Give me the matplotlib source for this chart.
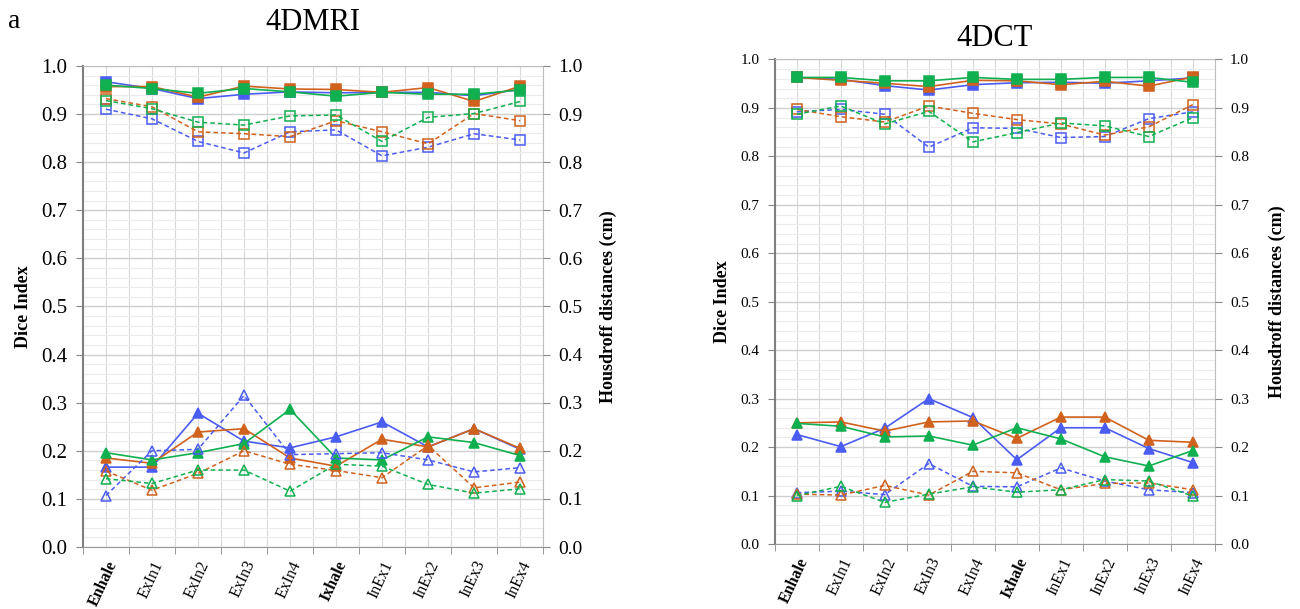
import numpy as np
import matplotlib.pyplot as plt
from matplotlib.ticker import MultipleLocator, FormatStrFormatter

plt.rcParams['font.family'] = ['Liberation Serif', 'DejaVu Serif']

categories = ['Enhale', 'ExIn1', 'ExIn2', 'ExIn3', 'ExIn4',
              'Ixhale', 'InEx1', 'InEx2', 'InEx3', 'InEx4']
bold_labels = ['Enhale', 'Ixhale']
y_ticks = [0.0, 0.1, 0.2, 0.3, 0.4, 0.5, 0.6, 0.7, 0.8, 0.9, 1.0]

# 4DMRI - Dice index (filled squares, solid)
mri_dice_blue = [0.967, 0.953, 0.932, 0.941, 0.946, 0.944, 0.945, 0.945, 0.938, 0.951]
mri_dice_orange = [0.957, 0.957, 0.935, 0.958, 0.952, 0.951, 0.945, 0.955, 0.926, 0.958]
mri_dice_green = [0.960, 0.953, 0.943, 0.953, 0.946, 0.937, 0.945, 0.941, 0.941, 0.950]
# 4DMRI - Dice index (open squares, dashed)
mri_dice2_blue = [0.910, 0.890, 0.843, 0.819, 0.863, 0.867, 0.813, 0.831, 0.859, 0.846]
mri_dice2_orange = [0.932, 0.915, 0.863, 0.859, 0.853, 0.886, 0.863, 0.838, 0.901, 0.886]
mri_dice2_green = [0.928, 0.911, 0.883, 0.877, 0.896, 0.898, 0.843, 0.893, 0.901, 0.926]
# 4DMRI - Housdroff distances (filled triangles, solid)
mri_hd_blue = [0.166, 0.166, 0.278, 0.220, 0.206, 0.229, 0.260, 0.208, 0.246, 0.203]
mri_hd_orange = [0.185, 0.174, 0.239, 0.246, 0.185, 0.168, 0.224, 0.208, 0.246, 0.205]
mri_hd_green = [0.196, 0.181, 0.196, 0.215, 0.286, 0.185, 0.181, 0.229, 0.217, 0.190]
# 4DMRI - Housdroff distances (open triangles, dashed)
mri_hd2_blue = [0.107, 0.200, 0.203, 0.315, 0.192, 0.194, 0.196, 0.181, 0.156, 0.165]
mri_hd2_orange = [0.158, 0.118, 0.153, 0.200, 0.172, 0.159, 0.144, 0.211, 0.123, 0.135]
mri_hd2_green = [0.142, 0.132, 0.160, 0.160, 0.116, 0.172, 0.168, 0.130, 0.112, 0.121]

# 4DCT - Dice index
ct_dice_blue = [0.963, 0.959, 0.946, 0.937, 0.948, 0.952, 0.953, 0.951, 0.956, 0.962]
ct_dice_orange = [0.963, 0.957, 0.951, 0.944, 0.957, 0.956, 0.948, 0.955, 0.945, 0.964]
ct_dice_green = [0.963, 0.963, 0.956, 0.956, 0.963, 0.959, 0.959, 0.963, 0.963, 0.953]
ct_dice2_blue = [0.892, 0.897, 0.887, 0.819, 0.859, 0.858, 0.839, 0.841, 0.878, 0.892]
ct_dice2_orange = [0.897, 0.882, 0.871, 0.904, 0.889, 0.876, 0.867, 0.844, 0.861, 0.907]
ct_dice2_green = [0.887, 0.904, 0.867, 0.893, 0.830, 0.849, 0.869, 0.863, 0.841, 0.880]
# 4DCT - Housdroff distances
ct_hd_blue = [0.226, 0.201, 0.239, 0.300, 0.261, 0.174, 0.240, 0.240, 0.197, 0.168]
ct_hd_orange = [0.250, 0.252, 0.233, 0.252, 0.254, 0.218, 0.262, 0.262, 0.214, 0.210]
ct_hd_green = [0.249, 0.243, 0.221, 0.223, 0.204, 0.240, 0.217, 0.180, 0.161, 0.193]
ct_hd2_blue = [0.106, 0.109, 0.102, 0.166, 0.119, 0.118, 0.157, 0.130, 0.112, 0.106]
ct_hd2_orange = [0.103, 0.101, 0.121, 0.101, 0.150, 0.147, 0.112, 0.125, 0.126, 0.112]
ct_hd2_green = [0.100, 0.119, 0.086, 0.103, 0.118, 0.107, 0.112, 0.133, 0.130, 0.099]

BLUE = '#4b5cf2'
ORANGE = '#d0621e'
GREEN = '#10b050'
DASH = (0, (3, 2))


def draw_panel(ax, series, tick_fs_left, tick_fs_right, ms, rlabelpad):
    x = np.arange(len(categories))
    for vals, color, marker, filled in series:
        ls = '-' if filled else DASH
        ax.plot(x, vals, linestyle=ls, color=color, lw=1.2 if filled else 1.1,
                marker=marker, ms=ms, mec=color,
                mfc=color if filled else 'none', mew=1.1, zorder=3)
    ax.set_xlim(-0.5, len(categories) - 0.5)
    ax.set_ylim(0, 1.0)
    ax.set_yticks(y_ticks)
    ax.yaxis.set_major_formatter(FormatStrFormatter('%.1f'))
    ax.yaxis.set_minor_locator(MultipleLocator(0.02))
    ax.set_xticks(x)
    ax.set_xticks(np.arange(-0.5, len(categories)), minor=True)
    ax.grid(True, which='major', axis='y', color='#cfcfcf', lw=1.0)
    ax.grid(True, which='minor', axis='y', color='#ececec', lw=0.8)
    ax.grid(True, which='both', axis='x', color='#d9d9d9', lw=0.8)
    ax.set_axisbelow(True)
    ax.set_xticklabels(categories, rotation=65, ha='right', rotation_mode='anchor',
                       fontsize=11.5)
    for lab in ax.get_xticklabels():
        if lab.get_text() in bold_labels:
            lab.set_fontweight('bold')
    ax.tick_params(axis='x', which='major', length=0, pad=8)
    ax.tick_params(axis='x', which='minor', length=5, color='#888888')
    ax.tick_params(axis='y', which='major', length=5, direction='out', color='#888888',
                   labelsize=tick_fs_left, pad=6)
    ax.tick_params(axis='y', which='minor', length=0)
    ax.set_ylabel('Dice Index', fontsize=13, fontweight='bold', labelpad=7)
    for s in ax.spines.values():
        s.set_color('#bfbfbf')
    ax.spines['left'].set_color('#7f7f7f')
    ax.spines['left'].set_linewidth(1.5)
    ax.spines['bottom'].set_color('#999999')

    ax2 = ax.twinx()
    ax2.set_ylim(0, 1.0)
    ax2.set_yticks(y_ticks)
    ax2.yaxis.set_major_formatter(FormatStrFormatter('%.1f'))
    ax2.tick_params(axis='y', length=5, color='#888888', labelsize=tick_fs_right, pad=6)
    ax2.set_ylabel('Housdroff distances (cm)', fontsize=13, fontweight='bold',
                   labelpad=rlabelpad)
    for s in ax2.spines.values():
        s.set_visible(False)
    return ax2


fig = plt.figure(figsize=(13, 6.09), dpi=100)
ax_mri = fig.add_axes([0.0638, 0.1018, 0.354, 0.790])
ax_ct = fig.add_axes([0.596, 0.1067, 0.3385, 0.7956])

mri_series = [
    (mri_dice_blue, BLUE, 's', True), (mri_dice_orange, ORANGE, 's', True),
    (mri_dice_green, GREEN, 's', True),
    (mri_dice2_blue, BLUE, 's', False), (mri_dice2_orange, ORANGE, 's', False),
    (mri_dice2_green, GREEN, 's', False),
    (mri_hd_blue, BLUE, '^', True), (mri_hd_orange, ORANGE, '^', True),
    (mri_hd_green, GREEN, '^', True),
    (mri_hd2_blue, BLUE, '^', False), (mri_hd2_orange, ORANGE, '^', False),
    (mri_hd2_green, GREEN, '^', False),
]
ct_series = [
    (ct_dice_blue, BLUE, 's', True), (ct_dice_orange, ORANGE, 's', True),
    (ct_dice_green, GREEN, 's', True),
    (ct_dice2_blue, BLUE, 's', False), (ct_dice2_orange, ORANGE, 's', False),
    (ct_dice2_green, GREEN, 's', False),
    (ct_hd_blue, BLUE, '^', True), (ct_hd_orange, ORANGE, '^', True),
    (ct_hd_green, GREEN, '^', True),
    (ct_hd2_blue, BLUE, '^', False), (ct_hd2_orange, ORANGE, '^', False),
    (ct_hd2_green, GREEN, '^', False),
]

draw_panel(ax_mri, mri_series, 15, 14, ms=7.5, rlabelpad=12)
draw_panel(ax_ct, ct_series, 11, 11, ms=7, rlabelpad=14)

fig.text(0.241, 0.963, '4DMRI', ha='center', va='center', fontsize=22)
fig.text(0.765, 0.937, '4DCT', ha='center', va='center', fontsize=22)
fig.text(0.006, 0.965, 'a', ha='left', va='center', fontsize=20)

fig.savefig('out.png', dpi=100)
